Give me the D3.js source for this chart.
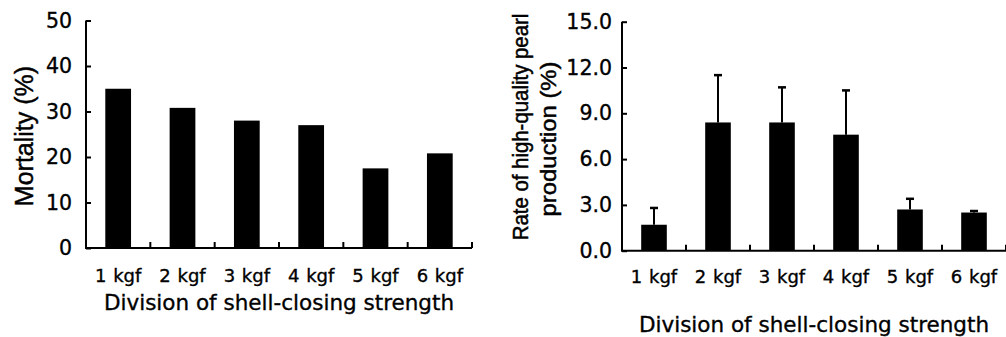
<!DOCTYPE html>
<html>
<head>
<meta charset="utf-8">
<script src="https://cdn.jsdelivr.net/npm/d3@7"></script>
<style>
  html, body { margin: 0; padding: 0; background: #fff; }
  svg { display: block; }
  text { font-family: "DejaVu Sans", sans-serif; fill: #000; stroke: #000; stroke-width: 0.35px; }
  text.ytitle { font-family: "Liberation Sans", Arial, sans-serif; stroke-width: 0.45px; }
</style>
</head>
<body>
<svg id="chart" width="1006" height="337"></svg>
<script>
// ---- data ----
const categories = ["1 kgf", "2 kgf", "3 kgf", "4 kgf", "5 kgf", "6 kgf"];
const mortality = [35.0, 30.8, 28.0, 27.0, 17.5, 20.8];
const pearlRate = [1.7, 8.4, 8.4, 7.6, 2.7, 2.5];
const pearlErr = [1.1, 3.1, 2.3, 2.9, 0.7, 0.1];
const mortalityTicks = [0, 10, 20, 30, 40, 50];
const pearlTicks = [0, 3, 6, 9, 12, 15];
const xTitle = "Division of shell-closing strength";

const svg = d3.select("#chart");

function panel(opts) {
  const g = svg.append("g");
  const x = d3.scaleBand().domain(categories).range([opts.x0, opts.x1])
    .paddingInner(0.6).paddingOuter(0.3);
  const y = d3.scaleLinear().domain(opts.domain).range([opts.y0, opts.y1]);

  // bars
  g.selectAll("rect.bar").data(opts.values).enter().append("rect")
    .attr("x", (d, i) => x(categories[i]))
    .attr("y", d => y(d))
    .attr("width", x.bandwidth())
    .attr("height", d => y(0) - y(d))
    .attr("fill", "#000");

  // error bars
  if (opts.errors) {
    const eg = g.append("g");
    opts.values.forEach((v, i) => {
      const cx = x(categories[i]) + x.bandwidth() / 2;
      eg.append("line").attr("x1", cx).attr("x2", cx)
        .attr("y1", y(v)).attr("y2", y(v + opts.errors[i]))
        .attr("stroke", "#000").attr("stroke-width", 2);
      eg.append("line").attr("x1", cx - 4).attr("x2", cx + 4)
        .attr("y1", y(v + opts.errors[i])).attr("y2", y(v + opts.errors[i]))
        .attr("stroke", "#000").attr("stroke-width", 2.5);
    });
  }

  // y axis
  const yAxis = d3.axisLeft(y).tickValues(opts.ticks).tickSize(-5)
    .tickPadding(opts.tickPad).tickFormat(opts.fmt);
  const ya = g.append("g").attr("transform", `translate(${opts.x0},0)`).call(yAxis);
  ya.attr("font-family", null).attr("font-size", null);
  ya.select(".domain").attr("stroke-width", 2).attr("d", `M0,${opts.y0}V${opts.y1}`);
  ya.selectAll(".tick line").attr("stroke-width", 2);
  ya.selectAll(".tick text").style("font-size", "20.5px");

  // x axis line
  g.append("line").attr("x1", opts.x0 - 1).attr("x2", opts.x1)
    .attr("y1", y(0)).attr("y2", y(0)).attr("stroke", "#000").attr("stroke-width", 2);
  // x boundary ticks (inward)
  categories.forEach(c => {
    const bx = x(c) + x.bandwidth() / 2 + x.step() / 2;
    g.append("line").attr("x1", bx).attr("x2", bx)
      .attr("y1", y(0)).attr("y2", y(0) - 6).attr("stroke", "#000").attr("stroke-width", 2);
  });
  // x tick labels
  g.selectAll("text.xl").data(categories).enter().append("text")
    .attr("x", c => x(c) + x.bandwidth() / 2)
    .attr("y", opts.xlabY)
    .attr("text-anchor", "middle")
    .style("font-size", "18px").style("word-spacing", "1px")
    .text(c => c);
  // x title
  g.append("text").attr("x", (opts.x0 + opts.x1) / 2).attr("y", opts.xTitleY)
    .attr("text-anchor", "middle")
    .style("font-size", "21.5px")
    .text(xTitle);

  // y title lines (slightly tall glyphs like the reference)
  opts.yTitle.forEach(t => {
    const tx = g.append("text").attr("class", "ytitle")
      .attr("transform", `translate(${t.x},${t.cy}) rotate(-90) scale(1,${t.sy})`)
      .attr("text-anchor", "middle")
      .style("font-size", t.size + "px")
      .text(t.text);
    if (t.len) tx.attr("textLength", t.len).attr("lengthAdjust", "spacingAndGlyphs");
  });
  return { x, y };
}

panel({
  x0: 86, x1: 472, y0: 248, y1: 20.5, domain: [0, 50],
  values: mortality, ticks: mortalityTicks, fmt: d3.format("d"), tickPad: 14,
  xlabY: 282, xTitleY: 310,
  yTitle: [{ text: "Mortality (%)", x: 33, cy: 136, size: 25, sy: 1 }]
});

panel({
  x0: 622, x1: 1006, y0: 250.7, y1: 21.7, domain: [0, 15],
  values: pearlRate, errors: pearlErr, ticks: pearlTicks, fmt: d3.format(".1f"), tickPad: 10,
  xlabY: 283, xTitleY: 332,
  yTitle: [
    { text: "Rate of high-quality pearl", x: 528, cy: 127, size: 20.4, sy: 1.12 },
    { text: "production (%)", x: 555.5, cy: 139, size: 21, sy: 1.08, len: 155 }
  ]
});
</script>
</body>
</html>
